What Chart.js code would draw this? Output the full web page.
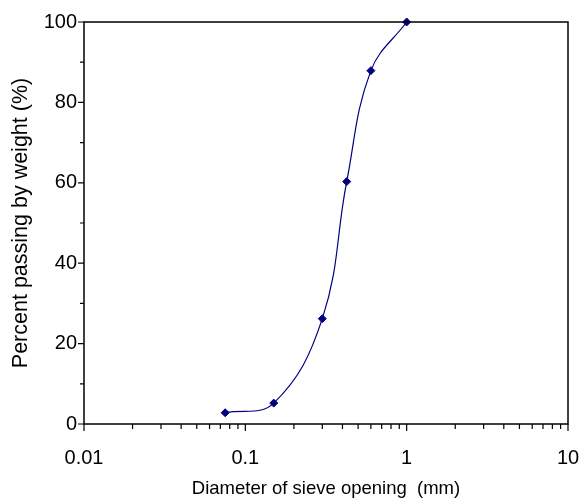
<!DOCTYPE html>
<html><head><meta charset="utf-8">
<script src="https://cdn.jsdelivr.net/npm/chart.js@4"></script>
<style>html,body{margin:0;padding:0;background:#fff}#wrap{width:579px;height:500px;position:relative}</style>
</head><body><div id="wrap"><canvas id="c" width="579" height="500"></canvas></div>
<script>
const sieveSizes = [0.075, 0.15, 0.3, 0.425, 0.6, 1.0];
const percentPassing = [2.8, 5.2, 26.2, 60.3, 87.9, 100];
const xTickLabels = [0.01, 0.1, 1, 10];
const yTickLabels = [0, 20, 40, 60, 80, 100];
const yMinorTicks = [10, 30, 50, 70, 90];
const xMinorMultipliers = [2, 3, 4, 5, 6, 7, 8, 9];
const xAxisTitle = 'Diameter of sieve opening  (mm)';
const yAxisTitle = 'Percent passing by weight (%)';

const FONT = '"Liberation Sans", Arial, sans-serif';

const frameTicks = {
  id: 'frameTicks',
  afterDraw(chart) {
    const ctx = chart.ctx, a = chart.chartArea;
    const xs = chart.scales.x, ys = chart.scales.y;
    ctx.save();
    ctx.strokeStyle = '#000';
    ctx.lineWidth = 1.5;
    ctx.strokeRect(a.left, a.top, a.right - a.left, a.bottom - a.top);
    ctx.lineWidth = 1.2;
    ctx.beginPath();
    yTickLabels.forEach(v => { const y = ys.getPixelForValue(v); ctx.moveTo(a.left - 6, y); ctx.lineTo(a.left, y); });
    yMinorTicks.forEach(v => { const y = ys.getPixelForValue(v); ctx.moveTo(a.left - 4, y); ctx.lineTo(a.left, y); });
    xTickLabels.forEach((d, i) => {
      const x = xs.getPixelForValue(d);
      ctx.moveTo(x, a.bottom); ctx.lineTo(x, a.bottom + 7);
      if (i < xTickLabels.length - 1) {
        xMinorMultipliers.forEach(m => {
          const xm = xs.getPixelForValue(d * m);
          ctx.moveTo(xm, a.bottom); ctx.lineTo(xm, a.bottom + 5);
        });
      }
    });
    ctx.stroke();
    ctx.restore();
  }
};

new Chart(document.getElementById('c'), {
  type: 'line',
  data: {
    datasets: [{
      data: sieveSizes.map((s, i) => ({ x: s, y: percentPassing[i] })),
      borderColor: '#000080',
      backgroundColor: '#000080',
      borderWidth: 1.2,
      pointStyle: 'rectRot',
      pointRadius: 4,
      pointBorderWidth: 1,
      pointBorderColor: '#000080',
      pointBackgroundColor: '#000080',
      tension: 0.4,
      clip: false,
      fill: false
    }]
  },
  options: {
    responsive: false,
    animation: false,
    devicePixelRatio: 1,
    layout: { padding: { left: 0, top: 22, right: 11, bottom: 0 } },
    plugins: { legend: { display: false }, tooltip: { enabled: false } },
    scales: {
      x: {
        type: 'logarithmic',
        min: 0.01, max: 10,
        grid: { display: false, drawTicks: false },
        border: { display: false },
        afterFit(s) { s.height = 76; s.paddingLeft = 0; s.paddingRight = 0; },
        ticks: {
          autoSkip: false, maxRotation: 0, padding: 22,
          color: '#000', font: { family: FONT, size: 20 },
          callback(v) {
            const m = xTickLabels.find(t => Math.abs(Math.log10(v) - Math.log10(t)) < 1e-6);
            return m === undefined ? '' : String(m);
          }
        },
        title: { display: true, text: xAxisTitle, color: '#000', font: { family: FONT, size: 18.5 }, padding: { top: 0, bottom: 0 } }
      },
      y: {
        min: 0, max: 100,
        grid: { display: false, drawTicks: false },
        border: { display: false },
        afterFit(s) { s.width = 84; s.paddingTop = 0; s.paddingBottom = 0; },
        ticks: {
          stepSize: 20, padding: 7,
          color: '#000', font: { family: FONT, size: 20 },
          callback(v) { return yTickLabels.includes(v) ? String(v) : ''; }
        },
        title: { display: true, text: yAxisTitle, color: '#000', font: { family: FONT, size: 21.5 }, padding: { top: 8, bottom: 0 } }
      }
    }
  },
  plugins: [frameTicks]
});
</script>
</body></html>
